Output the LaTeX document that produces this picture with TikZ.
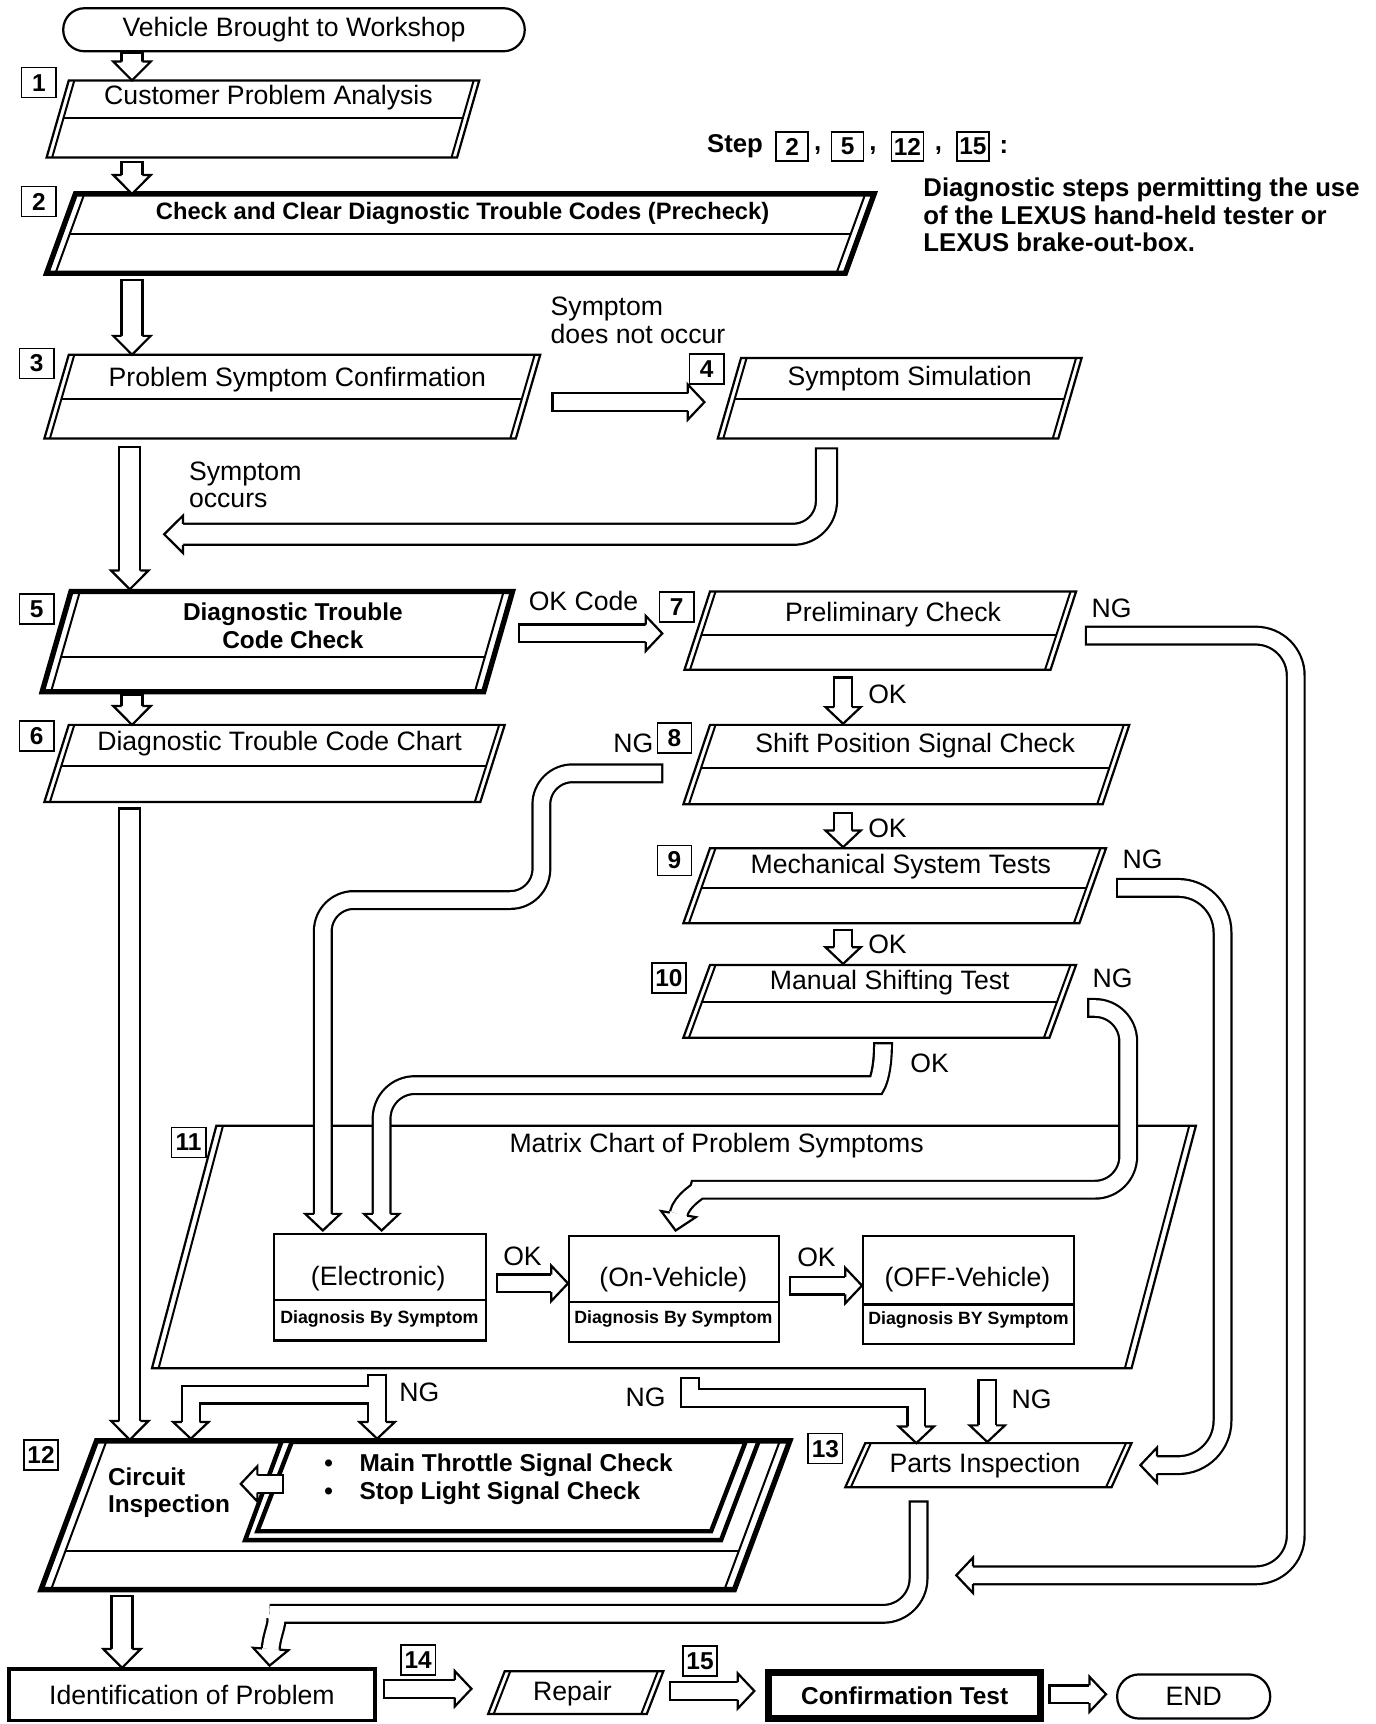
\documentclass[tikz,border=0pt]{standalone}
\usepackage{fontspec}
\setmainfont{Liberation Sans}
\usetikzlibrary{calc}
\tikzset{
  lab/.style={font=\fontsize{12}{12.5}\selectfont, inner sep=0pt},
  blab/.style={font=\fontsize{11}{12.5}\selectfont\bfseries, inner sep=0pt},
  note/.style={font=\fontsize{11.6}{12.5}\selectfont\bfseries, inner sep=0pt},
  small/.style={font=\fontsize{8}{9}\selectfont\bfseries, inner sep=0pt},
  num/.style={draw, line width=0.7pt, minimum width=15.5pt, minimum height=13.5pt, inner sep=0pt, font=\fontsize{11}{11}\selectfont\bfseries},
  hnum/.style={draw, line width=0.7pt, minimum width=14.5pt, minimum height=13pt, inner sep=0pt, font=\fontsize{11}{11}\selectfont\bfseries},
  term/.style={draw, line width=1pt, inner sep=0pt, font=\fontsize{12}{12}\selectfont},
  pipeBb/.style={line width=10.5pt, draw=black, line cap=butt, line join=miter},
  pipeWb/.style={line width=8.5pt, draw=white, line cap=butt, line join=miter},
  pipeBs/.style={line width=9pt, draw=black, line cap=butt, line join=miter},
  pipeWs/.style={line width=7pt, draw=white, line cap=butt, line join=miter},
  thinl/.style={line width=0.9pt},
  pics/ahead/.style n args={3}{code={\filldraw[fill=white,draw=black,line width=1pt,line join=miter,line cap=butt] (-#3,#1) -- (-#3,#2) -- (0,0) -- (-#3,-#2) -- (-#3,-#1);}}
}
% parallelogram box: top, bottom, TLx, TRx, slant, divider(0=none), outer lw, inner offset, name
\newcommand\pgram[9]{%
  \pgfmathsetmacro\pbl{#3-#5}%
  \pgfmathsetmacro\pbr{#4-#5}%
  \filldraw[fill=white, line width=#7, line join=miter] (#3,#1) -- (#4,#1) -- (\pbr,#2) -- (\pbl,#2) -- cycle;
  \draw[thinl] (#3+#8,#1) -- (\pbl+#8,#2) (#4-#8,#1) -- (\pbr-#8,#2);
  \ifnum#6>0
    \pgfmathsetmacro\pfr{(#6-#1)/(#2-#1)}%
    \draw[thinl] ({#3+#8-#5*\pfr},#6) -- ({#4-#8-#5*\pfr},#6);
  \fi
  \coordinate (#9) at ({(#3+#4-#5)/2},{(#1+#2)/2});
}
\newcommand\pipe[3]{%
  \draw[pipeB#1,#2] #3;
  \draw[pipeW#1,#2,shorten <=1pt] #3;}
\newcommand\headB[2]{\pic[rotate=#2] at #1 {ahead={9.5}{17}{17}};}
\newcommand\headS[2]{\pic[rotate=#2] at #1 {ahead={8}{16}{15}};}
\newcommand\vB[3]{\pipe{b}{sharp corners}{(#1,#2) -- (#1,#3-17)}\headB{(#1,#3)}{-90}}
\newcommand\vS[3]{\pipe{s}{sharp corners}{(#1,#2) -- (#1,#3-15)}\headS{(#1,#3)}{-90}}
\newcommand\hS[3]{\pipe{s}{sharp corners}{(#2,#1) -- (#3-15,#1)}\headS{(#3,#1)}{0}}
\begin{document}
\begin{tikzpicture}[x=0.5pt,y=-0.4965pt]
\useasboundingbox[fill=white] (0,0) rectangle (1240,1565);

% ---------- boxes ----------
\node[term, rounded corners=9.6pt, minimum width=208pt, minimum height=19.4pt] (start) at (265,27) {Vehicle Brought to Workshop};
\pgram{73}{143}{62}{432}{20}{107}{1pt}{5}{b1}
\pgram{176}{248}{68}{788}{26}{212}{2.4pt}{8}{b2}
\pgram{322}{398}{62}{487}{22}{362}{1pt}{5}{b3}
\pgram{325}{398}{668}{975}{21}{362}{1pt}{5}{b4}
\pgram{537}{628}{64}{462}{26}{596}{2.4pt}{8}{b5}
\pgram{537}{608}{640}{970}{23}{576}{1pt}{5}{b7}
\pgram{658}{728}{62}{455}{22}{695}{1pt}{5}{b6}
\pgram{658}{730}{640}{1018}{24}{697}{1pt}{5}{b8}
\pgram{770}{838}{640}{997}{24}{806}{1pt}{5}{b9}
\pgram{876}{942}{640}{970}{24}{910}{1pt}{5}{b10}
\pgram{1022}{1242}{195}{1078}{58}{0}{1pt}{6}{b11}
\pgram{1308}{1443}{87}{712}{50}{1408}{2.4pt}{9}{b12}
\pgram{1310}{1350}{780}{1020}{18}{0}{1pt}{5}{b13}
\pgram{1517}{1556}{455}{598}{15}{0}{1pt}{5}{b14}

% sub-box inside 12
\filldraw[fill=white, line width=2pt, line join=miter] (254,1308) -- (684,1308) -- (650,1398) -- (221,1398) -- cycle;
\draw[line width=2pt, line join=miter] (263,1309) -- (672,1309) -- (641,1390) -- (232,1390) -- cycle;

% matrix inner boxes
\draw[line width=1.1pt] (247,1120) rectangle (438,1217) (247,1180) -- (438,1180);
\draw[line width=1.1pt] (513,1122) rectangle (702,1218) (513,1182) -- (702,1182);
\draw[line width=1.1pt] (778,1122) rectangle (968,1220) (778,1184) -- (968,1184);

\node[term, line width=1.5pt, minimum width=165pt, minimum height=23.3pt] (ident) at (173,1538.5) {Identification of Problem};
\node[term, line width=3pt, minimum width=122.5pt, minimum height=20.9pt, font=\fontsize{11}{11}\selectfont\bfseries] (conf) at (815.5,1539) {Confirmation Test};
\node[term, rounded corners=9.9pt, minimum width=69pt, minimum height=19.9pt] (endn) at (1076,1540) {END};

% ---------- straight arrows ----------
\vB{119}{47}{73}
\vB{119}{146}{176}
\vB{119}{253}{322}
\vB{117}{405}{535}
\vB{119}{630}{658}
\vB{117}{733}{1307}
\vB{110}{1448}{1514}
\vS{760}{614}{657}
\vS{760}{737}{769}
\vS{760}{843}{875}
\vS{890}{1252}{1309}
\hS{365}{497}{635}
\hS{575}{467}{597}
\hS{1165}{447}{512}
\hS{1167}{711}{777}
\hS{1533}{345}{425}
\hS{1535}{603}{680}
\hS{1538}{945}{997}

% arrow from sub-box into circuit inspection
\pipe{s}{sharp corners}{(256,1347) -- (232,1347)}
\headS{(217,1347)}{180}

% ---------- pipes ----------
% 4 -> back to 5
\pipe{b}{rounded corners=15pt}{(745,406) -- (745,485) -- (165,485)}
\headB{(148,485)}{180}
% 7 NG
\pipe{s}{rounded corners=18pt}{(978,577) -- (1168,577) -- (1168,1430) -- (877,1430)}
\headS{(862,1430)}{180}
% 8 NG
\pipe{s}{rounded corners=14pt}{(598,702) -- (488,702) -- (488,817) -- (291,817) -- (291,1102)}
\headS{(291,1117)}{-90}
% 9 NG
\pipe{s}{rounded corners=20pt}{(1006,806) -- (1102,806) -- (1102,1330) -- (1043,1330)}
\headS{(1028,1330)}{180}
% 10 NG
\pipe{s}{rounded corners=15pt}{(980,915) -- (1017,915) -- (1017,1080) -- (660,1080) .. controls (632,1080) and (614.5,1089) .. (611.6,1102.2)}
\headS{(609,1117)}{-100}
% 10 OK
\pipe{s}{rounded corners=15pt}{(796,946) .. controls (796,975) and (790,985) .. (760,985) -- (344,985) -- (344,1102)}
\headS{(344,1117)}{-90}
% On-vehicle NG
\pipe{s}{sharp corners}{(622,1250) -- (622,1269) -- (826,1269) -- (826,1295)}
\headS{(826,1310)}{-90}
% Electronic NG fork
\draw[pipeBs] (340,1247) -- (340,1291);
\draw[pipeBs] (340,1266) -- (172,1266) -- (172,1291);
\draw[pipeWs, shorten <=1pt] (340,1247) -- (340,1291);
\draw[pipeWs] (340,1266) -- (172,1266) -- (172,1291);
\headS{(340,1306)}{-90}
\headS{(172,1306)}{-90}
% 13 -> identification
\pipe{s}{rounded corners=16pt}{(828,1362) -- (828,1465) -- (275,1465) .. controls (256,1465) and (245,1480) .. (244,1497)}
\headS{(243,1512)}{-94}

% ---------- numbers ----------
\node[num] (n1) at (35,75) {1};
\node[num] (n2) at (35,183) {2};
\node[num] (n3) at (33,330) {3};
\node[num] (n4) at (637,335) {4};
\node[num] (n5) at (33,553) {5};
\node[num] (n6) at (33,668) {6};
\node[num] (n7) at (610,551) {7};
\node[num] (n8) at (608,670) {8};
\node[num] (n9) at (608,781) {9};
\node[num] (n10) at (603,888) {10};
\node[num] (n11) at (170,1037) {11};
\node[num] (n12) at (37,1321) {12};
\node[num] (n13) at (744,1315) {13};
\node[num] (n14) at (377,1507) {14};
\node[num] (n15) at (631,1508) {15};

% ---------- header note ----------
\node[note, anchor=west] (step) at (637,133) {Step};
\node[hnum] (s2) at (714,133) {2};
\node[note] (c1) at (737,137) {,};
\node[hnum] (s5) at (764,133) {5};
\node[note] (c2) at (787,137) {,};
\node[hnum] (s12) at (818,133) {12};
\node[note] (c3) at (846,137) {,};
\node[hnum] (s15) at (877,133) {15};
\node[note] (c4) at (905,133) {:};
\node[note, anchor=west, align=left] (notetext) at (832,195) {Diagnostic steps permitting the use\\of the LEXUS hand-held tester or\\LEXUS brake-out-box.};

% ---------- texts ----------
\node[lab] (t1) at (242,89) {Customer Problem Analysis};
\node[blab, font=\fontsize{10.7}{12.5}\selectfont\bfseries] (t2) at (417,194) {Check and Clear Diagnostic Trouble Codes (Precheck)};
\node[lab] (t3) at (268,345) {Problem Symptom Confirmation};
\node[lab] (t4) at (820,344) {Symptom Simulation};
\node[lab, anchor=west, align=left] (lno) at (496,291) {Symptom\\does not occur};
\node[lab, anchor=west, align=left] (locc) at (170,440) {Symptom\\occurs};
\node[blab, align=center] (t5) at (264,568) {Diagnostic Trouble\\Code Check};
\node[lab] (lokc) at (526,546) {OK Code};
\node[lab] (t7) at (805,558) {Preliminary Check};
\node[lab] (ng7) at (1002,552) {NG};
\node[lab] (ok7) at (800,630) {OK};
\node[lab] (t6) at (252,675) {Diagnostic Trouble Code Chart};
\node[lab] (ng8) at (571,675) {NG};
\node[lab] (t8) at (825,677) {Shift Position Signal Check};
\node[lab] (ok8) at (800,752) {OK};
\node[lab] (t9) at (812,787) {Mechanical System Tests};
\node[lab] (ng9) at (1030,780) {NG};
\node[lab] (ok9) at (800,857) {OK};
\node[lab] (t10) at (802,892) {Manual Shifting Test};
\node[lab] (ng10) at (1003,888) {NG};
\node[lab] (ok10) at (838,965) {OK};
\node[lab] (t11) at (646,1040) {Matrix Chart of Problem Symptoms};
\node[lab] (te) at (341,1161) {(Electronic)};
\node[small] (de) at (342,1197) {Diagnosis By Symptom};
\node[lab] (ton) at (607,1162) {(On-Vehicle)};
\node[small] (don) at (607,1197) {Diagnosis By Symptom};
\node[lab] (toff) at (872,1162) {(OFF-Vehicle)};
\node[small] (doff) at (873,1198) {Diagnosis BY Symptom};
\node[lab] (oke) at (471,1140) {OK};
\node[lab] (okon) at (736,1141) {OK};
\node[lab] (nge) at (378,1264) {NG};
\node[lab] (ngon) at (582,1268) {NG};
\node[lab] (ngoff) at (930,1270) {NG};
\node[blab, anchor=west, align=left] (t12) at (97,1355) {Circuit\\Inspection};
\node[blab, anchor=west, align=left] (t12b) at (292,1343) {\textbullet\hspace{12pt}Main Throttle Signal Check\\\textbullet\hspace{12pt}Stop Light Signal Check};
\node[lab] (t13) at (888,1330) {Parts Inspection};
\node[lab] (t14) at (516,1537) {Repair};
\end{tikzpicture}
\end{document}
